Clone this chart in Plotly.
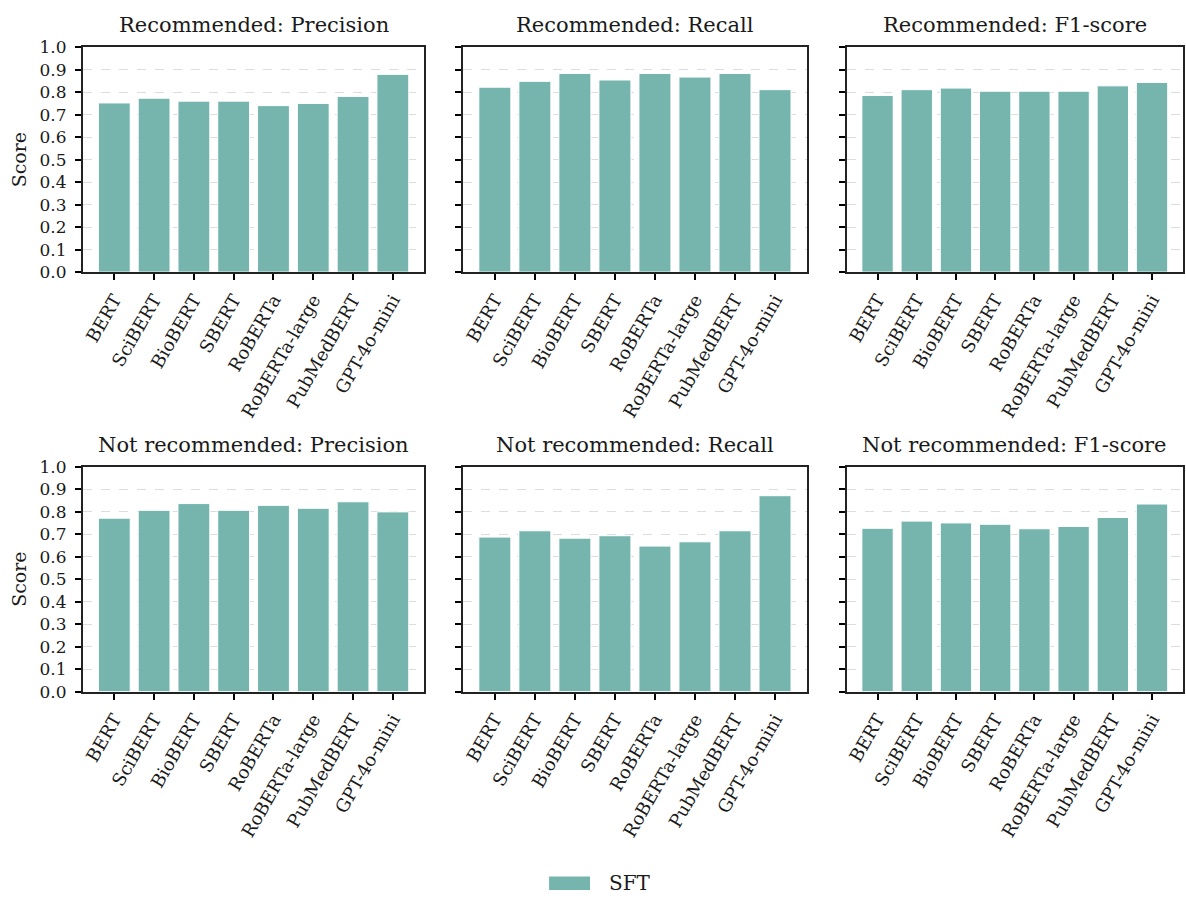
import plotly.graph_objects as go

# Models compared in every panel
models = ["BERT", "SciBERT", "BioBERT", "SBERT", "RoBERTa",
          "RoBERTa-large", "PubMedBERT", "GPT-4o-mini"]

# SFT scores per class and metric
rec_precision = [0.752, 0.773, 0.760, 0.760, 0.740, 0.750, 0.781, 0.879]
rec_recall = [0.822, 0.848, 0.883, 0.854, 0.883, 0.867, 0.883, 0.811]
rec_f1 = [0.785, 0.811, 0.818, 0.804, 0.804, 0.804, 0.828, 0.843]
notrec_precision = [0.771, 0.806, 0.836, 0.806, 0.828, 0.815, 0.844, 0.799]
notrec_recall = [0.687, 0.715, 0.682, 0.693, 0.647, 0.666, 0.715, 0.871]
notrec_f1 = [0.726, 0.758, 0.750, 0.744, 0.724, 0.734, 0.774, 0.834]

panel_titles = ["Recommended: Precision", "Recommended: Recall", "Recommended: F1-score",
                "Not recommended: Precision", "Not recommended: Recall", "Not recommended: F1-score"]
panel_values = [rec_precision, rec_recall, rec_f1,
                notrec_precision, notrec_recall, notrec_f1]
y_ticks = [round(i * 0.1, 1) for i in range(11)]
series_name = "SFT"

BAR_COLOR = "#76b5ae"
TEXT = "#1a1a1a"
FONT = "DejaVu Serif"
W, H = 1186, 905

# Panel boxes in pixel coordinates (left, right) and (top, bottom)
col_px = [(81, 423), (462, 806), (846, 1183)]
row_px = [(38, 268), (467, 697)]

fig = go.Figure()
annotations = []

for i, (title, vals) in enumerate(zip(panel_titles, panel_values)):
    r, c = divmod(i, 3)
    n = i + 1
    xname = "xaxis" if n == 1 else f"xaxis{n}"
    yname = "yaxis" if n == 1 else f"yaxis{n}"
    xref = "x" if n == 1 else f"x{n}"
    yref = "y" if n == 1 else f"y{n}"

    fig.add_trace(go.Bar(
        x=models, y=vals, xaxis=xref, yaxis=yref,
        marker=dict(color=BAR_COLOR, line=dict(color="white", width=1)),
        name=series_name, showlegend=False, width=0.8,
    ))

    x0, x1 = col_px[c]
    top, bot = row_px[r]
    xdom = [x0 / W, x1 / W]
    ydom = [(H - bot) / H, (H - top) / H]

    fig.layout[xname] = dict(
        domain=xdom, anchor=yref, range=[-0.79, 7.79],
        tickangle=-60, ticks="outside", ticklen=6, tickwidth=1.5, tickcolor="black",
        ticklabelstandoff=2,
        showline=True, linecolor="#222", linewidth=2, mirror=True,
        showgrid=False, zeroline=False,
        tickfont=dict(family=FONT, size=18, color=TEXT),
    )
    fig.layout[yname] = dict(
        domain=ydom, anchor=xref, range=[0, 1.0],
        tickvals=y_ticks, tickformat=".1f",
        showticklabels=(c == 0),
        ticks="outside", ticklen=6, tickwidth=1.5, tickcolor="black",
        ticklabelstandoff=5,
        showline=True, linecolor="#222", linewidth=2, mirror=True,
        showgrid=True, gridcolor="#dddddd", griddash="dash", gridwidth=1,
        zeroline=False,
        tickfont=dict(family=FONT, size=17, color=TEXT),
        title=dict(text="Score", font=dict(family=FONT, size=19, color=TEXT), standoff=8) if c == 0 else None,
    )

    annotations.append(dict(
        text=title, x=(xdom[0] + xdom[1]) / 2, y=ydom[1], xref="paper", yref="paper",
        xanchor="center", yanchor="bottom", yshift=8, showarrow=False,
        font=dict(family=FONT, size=21, color=TEXT),
    ))

# Legend at the bottom centre: wide colour patch followed by the series name
patch_x0, patch_x1 = 548 / W, 589 / W
patch_y0, patch_y1 = (H - 900) / H, (H - 886) / H
legend_shapes = [dict(
    type="rect", xref="paper", yref="paper",
    x0=patch_x0, x1=patch_x1, y0=patch_y0, y1=patch_y1,
    fillcolor=BAR_COLOR, line=dict(color=BAR_COLOR, width=0),
)]
annotations.append(dict(
    text=series_name, x=606 / W, y=(patch_y0 + patch_y1) / 2, xref="paper", yref="paper",
    xanchor="left", yanchor="middle", showarrow=False,
    font=dict(family=FONT, size=20, color=TEXT),
))

fig.update_layout(
    width=W, height=H,
    margin=dict(l=0, r=0, t=0, b=0),
    paper_bgcolor="white", plot_bgcolor="white",
    annotations=annotations,
    shapes=legend_shapes,
    bargap=0.2,
    showlegend=False,
    font=dict(family=FONT),
)

fig.write_html("out.html")
